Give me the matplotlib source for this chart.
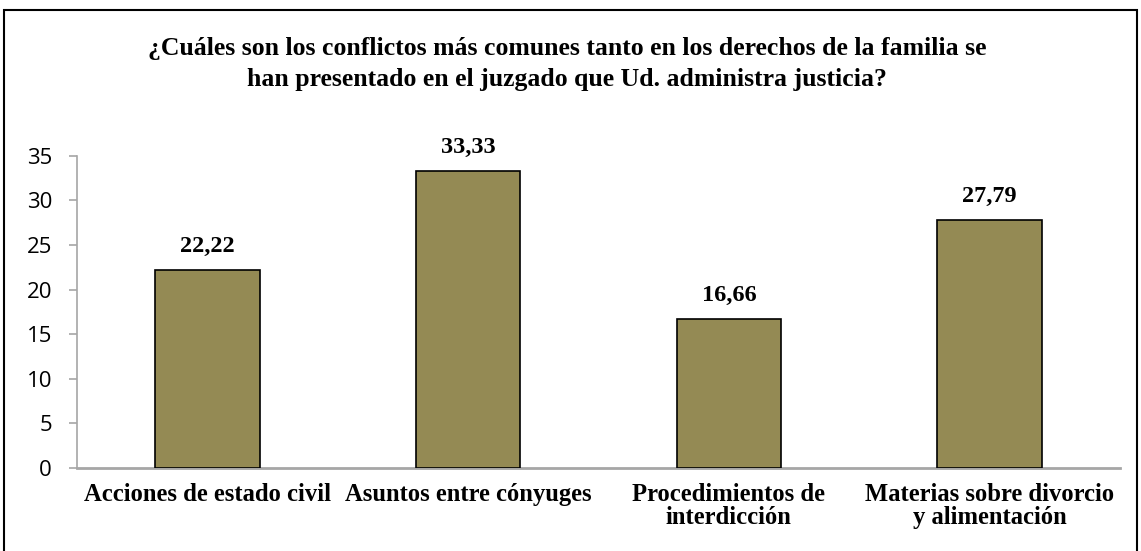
import matplotlib
matplotlib.use("Agg")
import matplotlib.pyplot as plt
from matplotlib.patches import Rectangle

# Data
categories = ["Acciones de estado civil", "Asuntos entre cónyuges",
              "Procedimientos de\ninterdicción", "Materias sobre divorcio\ny alimentación"]
values = [22.22, 33.33, 16.66, 27.79]
value_labels = ["22,22", "33,33", "16,66", "27,79"]
yticks = [0, 5, 10, 15, 20, 25, 30, 35]

title = ("¿Cuáles son los conflictos más comunes tanto en los derechos de la familia se\n"
         "han presentado en el juzgado que Ud. administra justicia?")

serif = "Liberation Serif"
sans = "Open Sans"
axis_gray = "#a6a6a6"

fig = plt.figure(figsize=(11.41, 5.51), dpi=100)
ax = fig.add_axes([0.0675, 0.1506, 0.9141, 0.5668])

x = range(len(values))
ax.bar(x, values, width=0.4, color="#948a54", edgecolor="black", linewidth=1.2, zorder=3)

for xi, v, lab in zip(x, values, value_labels):
    ax.annotate(lab, (xi, v), xytext=(0, 13), textcoords="offset points",
                ha="center", va="baseline", fontfamily=serif, fontweight="bold", fontsize=17.5)

ax.set_xlim(-0.5, len(values) - 0.5)
ax.set_ylim(0, 35)
ax.set_yticks(yticks)
ax.set_yticklabels([str(t) for t in yticks], fontfamily=sans, fontsize=16)
ax.set_xticks(list(x))
ax.set_xticklabels(categories, fontfamily=serif, fontweight="bold", fontsize=17.7,
                   linespacing=1.0)
ax.tick_params(axis="x", length=0, pad=11)
ax.tick_params(axis="y", length=6, width=1.2, color=axis_gray, pad=12)

for s in ["top", "right"]:
    ax.spines[s].set_visible(False)
ax.spines["left"].set_color(axis_gray)
ax.spines["left"].set_linewidth(1.2)
ax.spines["bottom"].set_color(axis_gray)
ax.spines["bottom"].set_linewidth(2)

fig.text(0.497, 0.884, title, ha="center", va="center", fontfamily=serif,
         fontweight="bold", fontsize=18.5, linespacing=1.45)

# chart frame
fig.add_artist(Rectangle((4 / 1141, -0.01), 1133 / 1141, 1 - 10 / 551 + 0.01,
                         transform=fig.transFigure, fill=False,
                         edgecolor="black", linewidth=1.5))

fig.savefig("out.png", dpi=100)
